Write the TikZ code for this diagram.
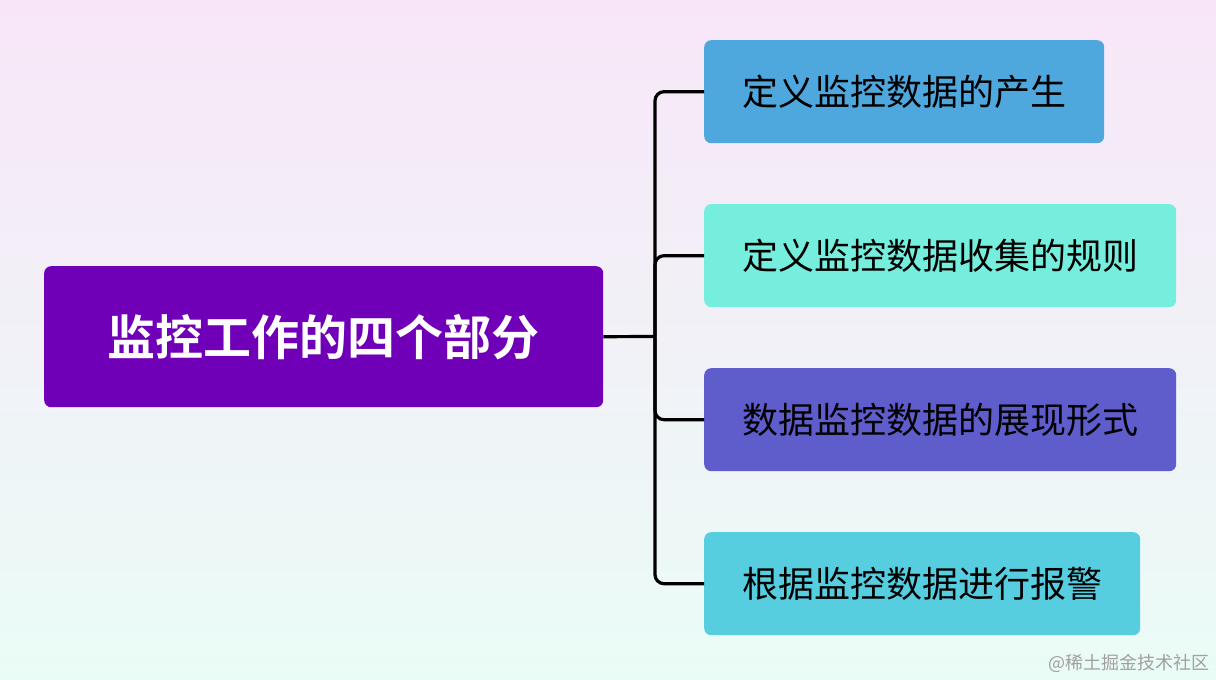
\documentclass[tikz,border=0pt]{standalone}
\usepackage{fontspec}
\newfontfamily\cjk{Noto Sans CJK SC}
\newfontfamily\cjkbold{Noto Sans CJK SC Bold}
\definecolor{bgtop}{HTML}{F8E6F8}
\definecolor{bgbot}{HTML}{EAFCF6}
\definecolor{rootc}{HTML}{7000B7}
\definecolor{c1}{HTML}{4EA8DE}
\definecolor{c2}{HTML}{76EEDD}
\definecolor{c3}{HTML}{5E5DCB}
\definecolor{c4}{HTML}{56CEE0}
\definecolor{wm}{HTML}{A0A0A0}
\begin{document}
\begin{tikzpicture}[x=1pt,y=-1pt,
  leaf/.style={rounded corners=7pt, inner xsep=38pt, inner ysep=0pt, minimum height=103pt, anchor=north west, font=\cjk\fontsize{36}{40}\selectfont, text=black},
  rootbox/.style={rounded corners=7pt, fill=rootc, minimum width=559pt, minimum height=141pt, inner sep=0pt, anchor=north west, font=\cjkbold\fontsize{48}{52}\selectfont, text=white},
  conn/.style={draw=black, line width=3.2pt, rounded corners=9pt}]
\useasboundingbox (0,0) rectangle (1216,680);
\shade[top color=bgtop, bottom color=bgbot] (0,0) rectangle (1216,680);
\node[rootbox] (root) at (44,266) {监控工作的四个部分};
\node[leaf, fill=c1] (b1) at (704,40) {定义监控数据的产生};
\node[leaf, fill=c2] (b2) at (704,204) {定义监控数据收集的规则};
\node[leaf, fill=c3] (b3) at (704,368) {数据监控数据的展现形式};
\node[leaf, fill=c4] (b4) at (704,532) {根据监控数据进行报警};
\coordinate (trunk) at (655,336.5);
\draw[conn, rounded corners=0pt] (root.east) -- (trunk);
\draw[conn] (trunk) |- (b1.west);
\draw[conn] (trunk) |- (b2.west);
\draw[conn] (trunk) |- (b3.west);
\draw[conn] (trunk) |- (b4.west);
\node[anchor=east, text=wm, font=\cjk\fontsize{18}{20}\selectfont, inner sep=0pt] (wmk) at (1210,663) {@稀土掘金技术社区};
\end{tikzpicture}
\end{document}
